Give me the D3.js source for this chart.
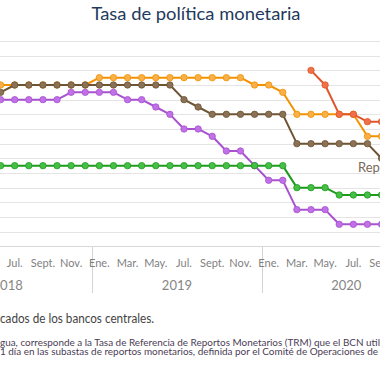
<!DOCTYPE html>
<html><head><meta charset="utf-8">
<script src="https://cdn.jsdelivr.net/npm/d3@7"></script>
<style>html,body{margin:0;padding:0;background:#fff;overflow:hidden}svg{display:block}</style>
</head><body><div id="chart"></div>
<script>
// ---- data (monthly, Jun 2018 .. Sep 2020) ----
const allMonths = d3.range(36).map(i => new Date(2018, i, 1)); // Jan 2018 .. Dec 2020 (axis bands)
const dataStart = 5; // Jun 2018
const monthLabels = ["Ene.","Feb.","Mar.","Abr.","May.","Jun.","Jul.","Ago.","Sept.","Oct.","Nov.","Dic."];
const years = [2018, 2019, 2020];
const yTicks = [0,0.5,1,1.5,2,2.5,3,3.5,4,4.5,5,5.5,6,6.5,7];

const honduras   = [5.5,5.5,5.5,5.5,5.5,5.5,5.5,5.75,5.75,5.75,5.75,5.75,5.75,5.75,5.75,5.75,5.75,5.75,5.5,5.5,5.25,4.5,4.5,4.5,4.5,4.5,3.75,3.75];
const costaRica  = [5.0,5.0,5.0,5.0,5.0,5.25,5.25,5.25,5.25,5.0,5.0,4.75,4.5,4.0,4.0,3.75,3.25,3.25,2.75,2.25,2.25,1.25,1.25,1.25,0.75,0.75,0.75,0.75];
const guatemala  = [2.75,2.75,2.75,2.75,2.75,2.75,2.75,2.75,2.75,2.75,2.75,2.75,2.75,2.75,2.75,2.75,2.75,2.75,2.75,2.75,2.75,2.0,2.0,2.0,1.75,1.75,1.75,1.75];
const repDom     = [5.25,5.5,5.5,5.5,5.5,5.5,5.5,5.5,5.5,5.5,5.5,5.5,5.5,5.0,4.75,4.5,4.5,4.5,4.5,4.5,4.5,3.5,3.5,3.5,3.5,3.5,3.5,3.0];
const nicaragua  = [null,null,null,null,null,null,null,null,null,null,null,null,null,null,null,null,null,null,null,null,null,null,6.0,5.5,4.5,4.5,4.25,4.25];

const series = [
  {name:"Honduras",  values:honduras,  line:"#f39200", dot:"#f9b04a"},
  {name:"Costa Rica",values:costaRica, line:"#a852d0", dot:"#c071e6"},
  {name:"Guatemala", values:guatemala, line:"#1e9b1e", dot:"#46bf46"},
  {name:"Rep. Dominicana", values:repDom, line:"#6e5433", dot:"#8b7156"},
  {name:"Nicaragua", values:nicaragua, line:"#e0552a", dot:"#f07048"}
];

const W = 380, H = 380;
const svg = d3.select("#chart").append("svg").attr("width", W).attr("height", H)
  .style("font-family", "Lato, 'Open Sans', sans-serif");

const step = 14.11;
const x0 = 92.3 - 12 * step;
const x = d3.scaleBand().domain(allMonths.map((d,i)=>i)).range([x0, x0 + 36*step]).paddingInner(0).paddingOuter(0);
const y = d3.scaleLinear().domain([0, 7]).range([246.3, 41]);
const cx = i => x(i) + x.bandwidth()/2;

// title
svg.append("text").attr("x", 196).attr("y", 20).attr("text-anchor","middle")
  .attr("font-size", 18).attr("fill", "#1f3a5c")
  .attr("textLength", 209).attr("lengthAdjust","spacingAndGlyphs")
  .text("Tasa de política monetaria");

// grid
svg.append("g").selectAll("line").data(yTicks).join("line")
  .attr("x1", 0).attr("x2", W)
  .attr("y1", d => Math.round(y(d)) + 0.5).attr("y2", d => Math.round(y(d)) + 0.5)
  .attr("stroke", d => d === 0 ? "#d8d8d8" : "#e4e4e4").attr("stroke-width", 1);

// year separators
svg.append("g").selectAll("line").data(d3.range(4)).join("line")
  .attr("x1", d => Math.round(x0 + d*12*step) + 0.5).attr("x2", d => Math.round(x0 + d*12*step) + 0.5)
  .attr("y1", 247).attr("y2", 293).attr("stroke", "#d4d4d4");

// month labels (those that reach into the visible frame)
svg.append("g").selectAll("text")
  .data(allMonths.map((d,i)=>i).filter(i => i % 2 === 0 && cx(i) > 5 && cx(i) < W + 10)).join("text")
  .attr("x", d => cx(d)).attr("y", 267).attr("text-anchor","middle")
  .attr("font-size", 11).attr("fill", "#7f7f7f")
  .text(d => monthLabels[allMonths[d].getMonth()]);

// year labels
svg.append("g").selectAll("text").data(years).join("text")
  .attr("x", (d,i) => x0 + (i*12 + 6)*step).attr("y", 290).attr("text-anchor","middle")
  .attr("font-size", 13).attr("fill", "#858585")
  .text(d => d);

// lines
const line = d3.line().defined(d => d.v != null).x(d => cx(d.i)).y(d => y(d.v));
series.forEach(s => {
  const pts = s.values.map((v,k) => ({i: dataStart + k, v}));
  const g = svg.append("g");
  g.append("path").datum(pts).attr("d", line).attr("fill","none")
    .attr("stroke", s.line).attr("stroke-width", 2).attr("stroke-linejoin","round");
  g.selectAll("circle").data(pts.filter(d => d.v != null)).join("circle")
    .attr("cx", d => cx(d.i)).attr("cy", d => y(d.v)).attr("r", 3.2)
    .attr("fill", s.dot).attr("stroke", s.line).attr("stroke-width", 0.8);
});

// series label
svg.append("text").attr("x", 358).attr("y", 172).attr("font-size", 13).attr("fill", "#7a6a55")
  .text("Rep. Dominicana");

// notes
svg.append("text").attr("x", 0).attr("y", 322.5).attr("font-size", 12.5).attr("fill", "#444")
  .attr("textLength", 154).attr("lengthAdjust","spacingAndGlyphs")
  .text("cados de los bancos centrales.");
svg.append("text").attr("x", 0).attr("y", 345.5).attr("font-size", 8.8).attr("fill", "#4a3d55")
  .attr("textLength", 380).attr("lengthAdjust","spacingAndGlyphs")
  .text("gua, corresponde a la Tasa de Referencia de Reportos Monetarios (TRM) que el BCN util");
svg.append("text").attr("x", 0).attr("y", 354.5).attr("font-size", 8.8).attr("fill", "#4a3d55")
  .attr("textLength", 378).attr("lengthAdjust","spacingAndGlyphs")
  .text("1 día en las subastas de reportos monetarios, definida por el Comité de Operaciones de");
</script></body></html>
